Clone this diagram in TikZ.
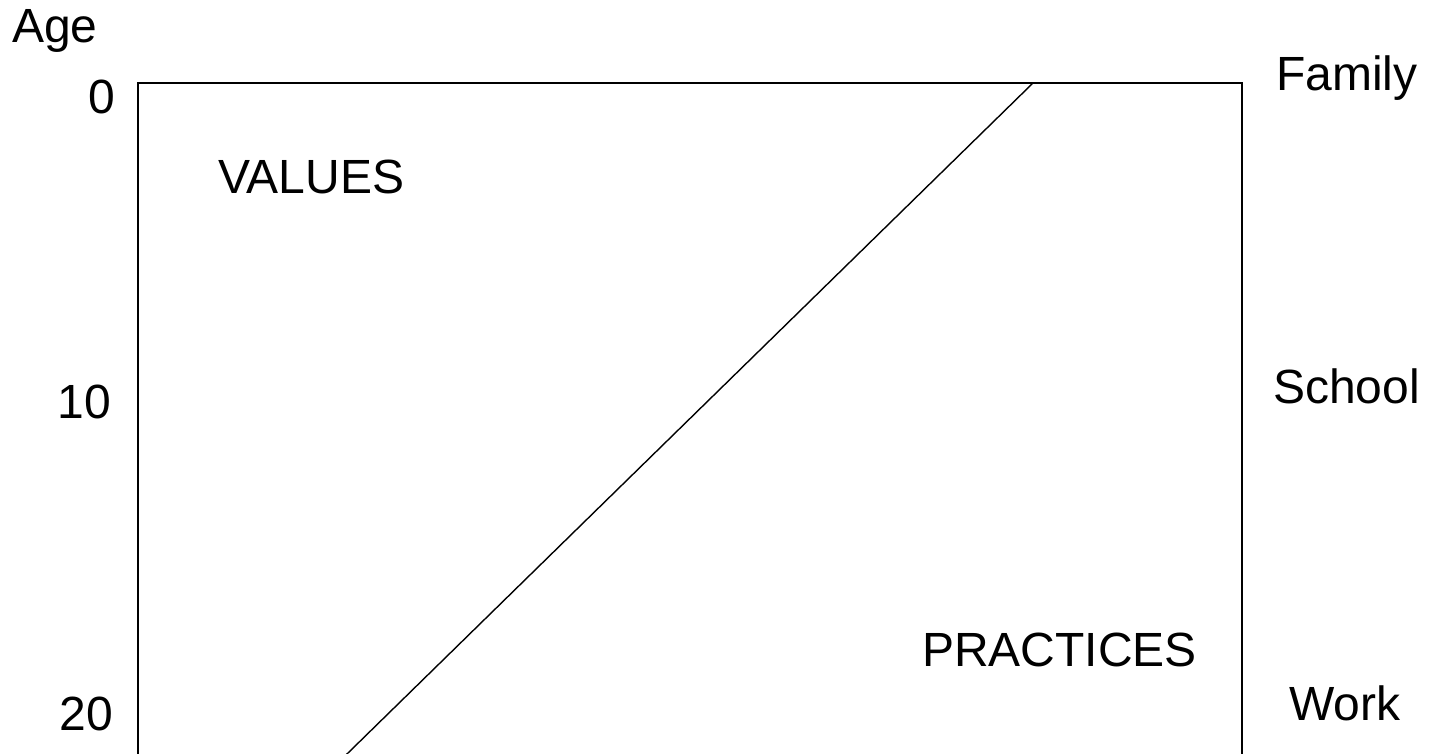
\documentclass[tikz,border=0pt]{standalone}
\usepackage{fontspec}
\setmainfont{Liberation Sans}
\begin{document}
\begin{tikzpicture}[
  x=1pt, y=-1pt,
  every node/.style={inner sep=0pt, font=\fontsize{48}{57}\selectfont},
  lbl/.style={anchor=base west},
  tick/.style={anchor=base east}
]
  \useasboundingbox (0,0) rectangle (1430,753);
  \clip (0,0) rectangle (1430,753);

  % Marco del diagrama
  \coordinate (tl) at (138,83);
  \coordinate (br) at (1242,780);
  \draw[line width=2.4pt] (tl) rectangle (br);

  % Diagonal entre valores y prácticas
  \coordinate (d1) at (1033,83);
  \coordinate (d2) at (330.6,770);
  \draw[line width=1.4pt] (d1) -- (d2);

  % Eje de edades
  \node[lbl] (age) at (12,42) {Age};
  \node[tick] (a0) at (115,113) {0};
  \node[tick] (a10) at (111,418) {10};
  \node[tick] (a20) at (113,730) {20};

  % Entornos a la derecha
  \node[lbl] (family) at (1276,90) {Family};
  \node[lbl] (school) at (1273,403) {School};
  \node[lbl] (work) at (1289,720) {Work};

  % Regiones
  \node[lbl] (values) at (218,193) {VALUES};
  \node[lbl] (practices) at (922,666) {PRACTICES};
\end{tikzpicture}
\end{document}
